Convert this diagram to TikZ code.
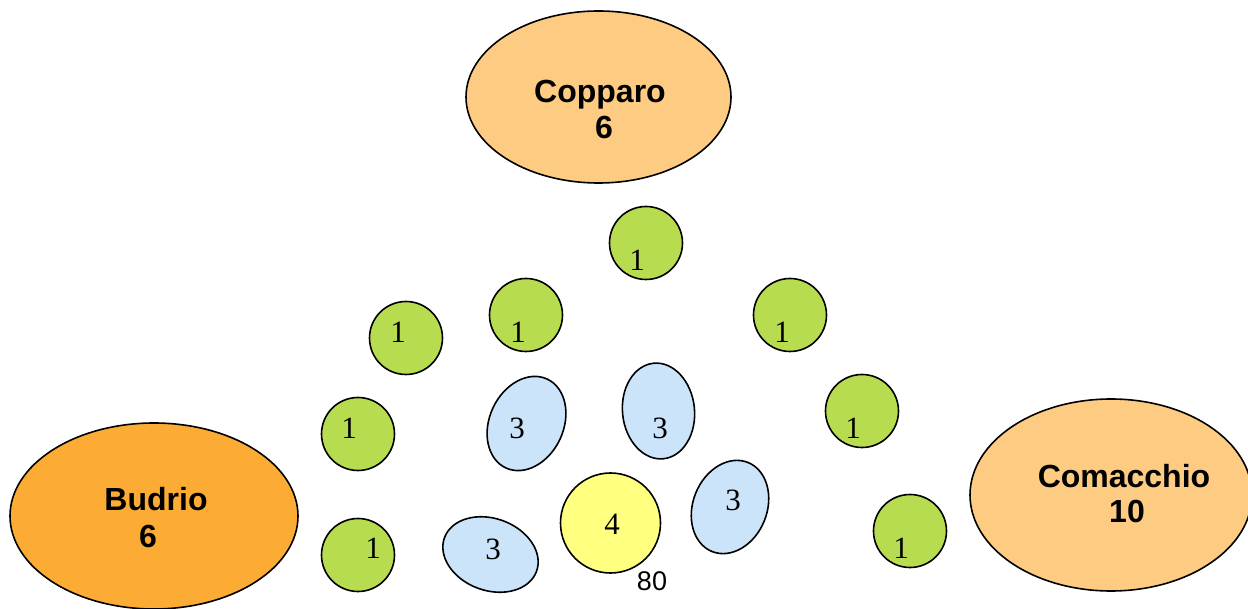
\documentclass[tikz,border=0pt]{standalone}
\usepackage{fontspec}
\setmainfont{Liberation Serif}
\setsansfont{Liberation Sans}
\usetikzlibrary{shapes.geometric}
\definecolor{lightor}{RGB}{253,203,130}
\definecolor{darkor}{RGB}{252,172,52}
\definecolor{grn}{RGB}{184,220,80}
\definecolor{blu}{RGB}{204,228,250}
\definecolor{yel}{RGB}{255,255,128}
\tikzset{
  shp/.style={draw=black, line width=1.6pt, inner sep=0pt, ellipse},
  city/.style={shp, fill=#1},
  gc/.style={shp, fill=grn, minimum width=73pt, minimum height=73pt},
  bc/.style={shp, fill=blu},
  num/.style={font=\fontsize{31}{31}\selectfont, inner sep=0pt},
  ctxt/.style={font=\sffamily\bfseries\fontsize{32}{32}\selectfont, inner sep=0pt}
}
\begin{document}
\begin{tikzpicture}[x=1pt,y=-1pt]
\useasboundingbox (0,0) rectangle (1248,609);
% cities
\node[city=lightor, minimum width=265pt, minimum height=172pt] (copparo) at (598.5,97) {};
\node[city=darkor, minimum width=288pt, minimum height=186pt] (budrio) at (154,516) {};
\node[city=lightor, minimum width=282pt, minimum height=192pt] (comacchio) at (1111,495) {};
\node[ctxt] (copparoT) at (600,95) {Copparo};
\node[ctxt] (copparoN) at (604,127) {6};
\node[ctxt] (budrioT) at (156,499) {Budrio};
\node[ctxt] (budrioN) at (148,536) {6};
\node[ctxt] (comacchioT) at (1124,476) {Comacchio};
\node[ctxt] (comacchioN) at (1127,511) {10};
% green circles
\node[gc] (g1) at (646,243) {};
\node[gc] (g2) at (406,338) {};
\node[gc] (g3) at (526,315) {};
\node[gc] (g4) at (790,315) {};
\node[gc] (g5) at (358,434) {};
\node[gc] (g6) at (862,411) {};
\node[gc] (g7) at (358,555) {};
\node[gc] (g8) at (910,531) {};
\node[num] (g1t) at (637,260) {1};
\node[num] (g2t) at (398,332) {1};
\node[num] (g3t) at (518,332) {1};
\node[num] (g4t) at (782,332) {1};
\node[num] (g5t) at (349,428) {1};
\node[num] (g6t) at (853,428) {1};
\node[num] (g7t) at (373,548) {1};
\node[num] (g8t) at (901,548) {1};
% blue ellipses
\node[bc, minimum width=74pt, minimum height=98pt, rotate=-25] (b1) at (526.5,423.5) {};
\node[bc, minimum width=72pt, minimum height=96pt, rotate=6] (b2) at (658.5,411) {};
\node[bc, minimum width=74pt, minimum height=96pt, rotate=-22] (b3) at (730,507) {};
\node[bc, minimum width=98pt, minimum height=72pt, rotate=-20] (b4) at (490.5,554.5) {};
\node[num] (b1t) at (517,428) {3};
\node[num] (b2t) at (660,428) {3};
\node[num] (b3t) at (733,500) {3};
\node[num] (b4t) at (493,549) {3};
% yellow
\node[shp, fill=yel, minimum width=100pt, minimum height=100pt] (y) at (610.5,523) {};
\node[num] (yt) at (612,524) {4};
\node[font=\sffamily\fontsize{27}{27}\selectfont, inner sep=0pt] (n80) at (652,581) {80};
\end{tikzpicture}
\end{document}
